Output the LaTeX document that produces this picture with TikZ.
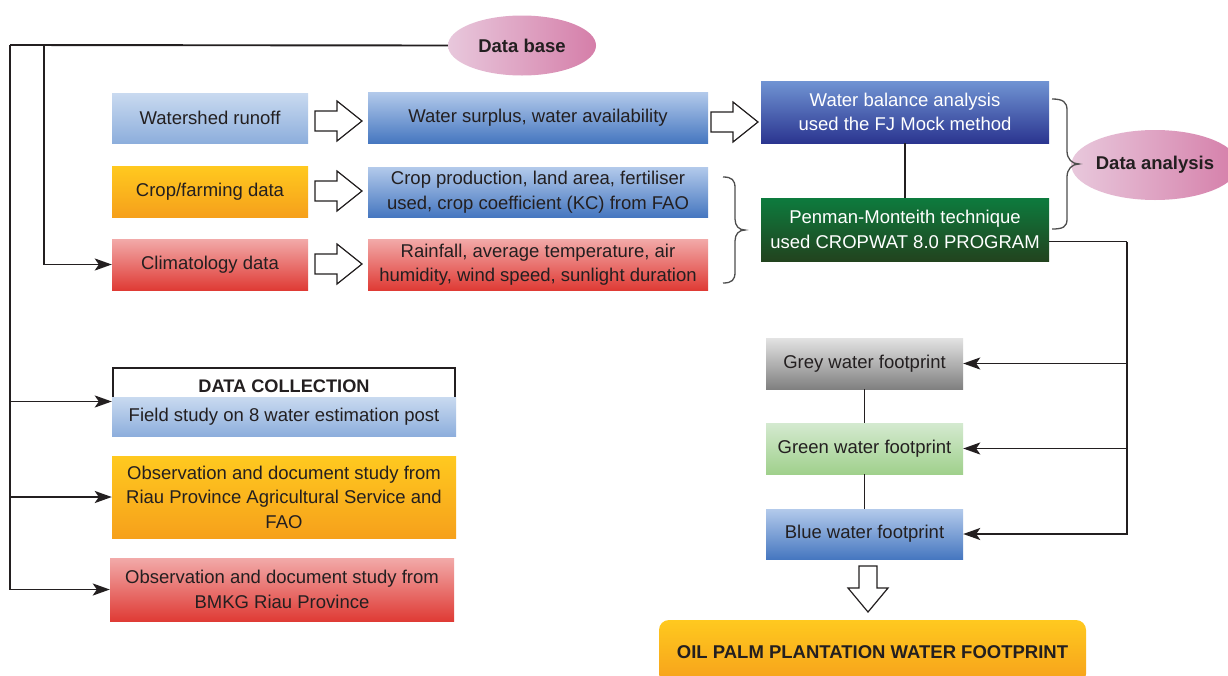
\documentclass[tikz,border=0pt]{standalone}
\usepackage{fontspec}
\setmainfont{Liberation Sans}
\usetikzlibrary{arrows.meta,shapes.geometric}
\definecolor{ink}{HTML}{231F20}
\definecolor{lbT}{HTML}{C9DAF0}\definecolor{lbB}{HTML}{8DAEDC}
\definecolor{mbT}{HTML}{B3CAEB}\definecolor{mbB}{HTML}{4677C0}
\definecolor{orT}{HTML}{FFC91F}\definecolor{orB}{HTML}{F6A01B}
\definecolor{rdT}{HTML}{F2AAA9}\definecolor{rdB}{HTML}{DF3B35}
\definecolor{dbT}{HTML}{7094D3}\definecolor{dbB}{HTML}{2B3590}
\definecolor{gnT}{HTML}{0D7B3E}\definecolor{gnB}{HTML}{22431E}
\definecolor{gyT}{HTML}{E3E3E3}\definecolor{gyB}{HTML}{808080}
\definecolor{lgT}{HTML}{D4EAD0}\definecolor{lgB}{HTML}{A0D08C}
\definecolor{elL}{HTML}{E8C8DC}\definecolor{elR}{HTML}{D57EA9}
\definecolor{brc}{HTML}{4D4D4D}
\newcommand{\hollowR}[2]{%
  \draw[hollow] (#1,#2-10) -- ++(22,0) -- ++(0,-10) -- ++(25,20) -- ++(-25,20) -- ++(0,-10) -- ++(-22,0) -- cycle;}
\begin{document}
\begin{tikzpicture}[x=1pt,y=-1pt,
  txt/.style={font=\fontsize{18.5}{24.5}\selectfont},
  bx/.style={txt,inner sep=0pt,align=center,text=ink},
  lblue/.style={bx,top color=lbT,bottom color=lbB},
  mblue/.style={bx,top color=mbT,bottom color=mbB},
  orng/.style={bx,top color=orT,bottom color=orB},
  redb/.style={bx,top color=rdT,bottom color=rdB},
  dblue/.style={bx,top color=dbT,bottom color=dbB,text=white},
  gbox/.style={bx,top color=gnT,bottom color=gnB,text=white},
  greyb/.style={bx,top color=gyT,bottom color=gyB},
  lgreen/.style={bx,top color=lgT,bottom color=lgB},
  ell/.style={ellipse,inner sep=0pt,left color=elL,right color=elR,font=\fontsize{18.5}{22}\selectfont\bfseries,text=ink},
  ln/.style={draw=ink,line width=1.9pt},
  arr/.style={ln,-{Stealth[length=17pt,width=12pt,inset=4pt]}},
  hollow/.style={draw=ink,line width=1.2pt,fill=white,line join=miter},
  brc/.style={draw=brc,line width=1.3pt},
]
\useasboundingbox (0,0) rectangle (1228,675);
\fill[white] (0,0) rectangle (1228,675);

% ellipses
\node[ell,minimum width=148pt,minimum height=60pt] (db) at (522,45.5) {Data base};
\node[ell,minimum width=146pt,minimum height=70pt] (da) at (1155,165) {Data analysis};

% top boxes
\node[lblue,minimum width=196pt,minimum height=50pt] (ws) at (210,118) {Watershed runoff};
\node[orng,minimum width=196pt,minimum height=51pt] (crop) at (210,191.5) {Crop/farming data};
\node[redb,minimum width=196pt,minimum height=51pt] (clim) at (210,264.5) {Climatology data};
\node[mblue,minimum width=340pt,minimum height=51pt] (wsur) at (538,117.5) {Water surplus, water availability};
\node[mblue,minimum width=340pt,minimum height=50pt] (cprod) at (538,192) {Crop production, land area, fertiliser\\used, crop coefficient (KC) from FAO};
\node[redb,minimum width=340pt,minimum height=51pt] (rain) at (538,264.5) {Rainfall, average temperature, air\\humidity, wind speed, sunlight duration};
\node[dblue,minimum width=288pt,minimum height=62pt] (wbal) at (905,112) {Water balance analysis\\used the FJ Mock method};
\node[gbox,minimum width=288pt,minimum height=63pt] (pen) at (905,229.5) {Penman-Monteith technique\\used CROPWAT 8.0 PROGRAM};

% footprint boxes
\node[greyb,minimum width=197pt,minimum height=51pt] (grey) at (864.5,363.5) {Grey water footprint};
\node[lgreen,minimum width=197pt,minimum height=51pt] (green) at (864.5,448.5) {Green water footprint};
\node[mblue,minimum width=197pt,minimum height=50pt] (blue) at (864.5,534) {Blue water footprint};
\node[bx,top color=orT,bottom color=orB,rounded corners=10pt,minimum width=427pt,minimum height=64pt,font=\fontsize{18.5}{22}\selectfont\bfseries] (final) at (872.5,652) {OIL PALM PLANTATION WATER FOOTPRINT};

% data collection
\node[bx,draw=ink,line width=1.2pt,fill=white,minimum width=342pt,minimum height=36pt,font=\fontsize{18.2}{22}\selectfont\bfseries] (dc) at (284,386) {DATA COLLECTION};
\node[lblue,minimum width=344pt,minimum height=39pt] (field) at (284,416.5) {Field study on 8 water estimation post};
\node[orng,minimum width=344pt,minimum height=82pt] (obsA) at (284,497) {Observation and document study from\\Riau Province Agricultural Service and\\FAO};
\node[redb,minimum width=344pt,minimum height=63pt] (obsB) at (282,589.5) {Observation and document study from\\BMKG Riau Province};

% hollow arrows
\hollowR{315}{121}
\hollowR{315}{191}
\hollowR{315}{264}
\hollowR{711}{122}
\draw[hollow] (859,566) -- (877,566) -- (877,588) -- (888,588) -- (868,612) -- (848,588) -- (859,588) -- cycle;

% braces
\draw[brc] (723,177) .. controls (732,177) and (735,180) .. (735,188) -- (735,219)
  .. controls (735,226) and (739,230) .. (745,230)
  .. controls (739,230) and (735,234) .. (735,241) -- (735,272)
  .. controls (735,280) and (732,283) .. (723,283);
\draw[brc] (1052,99) .. controls (1063,99) and (1067,102) .. (1067,110) -- (1067,151)
  .. controls (1067,159) and (1072,164) .. (1079,164)
  .. controls (1072,164) and (1067,169) .. (1067,177) -- (1067,219)
  .. controls (1067,227) and (1063,229) .. (1052,229);

% connectors left
\coordinate (tl) at (10,45);
\coordinate (t2) at (44,45);
\coordinate (j1) at (10,401.5);
\coordinate (j2) at (10,497);
\draw[ln] (db.west) -- (tl);
\draw[arr] (tl) |- (obsB.west);
\draw[arr] (t2) |- (clim.west);
\draw[arr] (j1) -- (j1 -| field.west);
\draw[arr] (j2) -- (obsA.west);

% connectors right
\coordinate (r0) at (1127,241.5);
\draw[ln] (pen.east |- r0) -- (r0);
\draw[arr] (r0) |- (blue.east);
\draw[arr] (r0 |- grey.east) -- (grey.east);
\draw[arr] (r0 |- green.east) -- (green.east);

% vertical links
\draw[ln] (wbal.south) -- (pen.north);
\draw[ln] (grey.south) -- (green.north);
\draw[ln] (green.south) -- (blue.north);
\end{tikzpicture}
\end{document}
